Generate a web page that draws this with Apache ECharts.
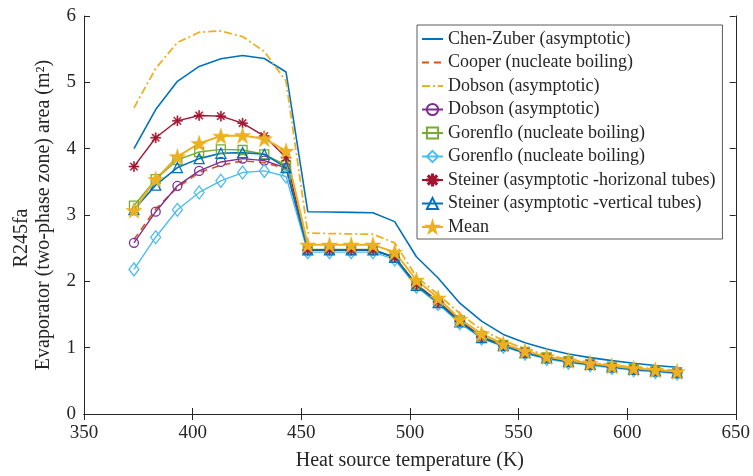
<!DOCTYPE html>
<html>
<head>
<meta charset="utf-8">
<script src="https://cdn.jsdelivr.net/npm/echarts@6/dist/echarts.min.js"></script>
<style>
html,body{margin:0;padding:0;background:#fff;}
#main{width:753px;height:476px;}
</style>
</head>
<body>
<div id="main"></div>
<script>
var temperatures = [373,383,393,403,413,423,433,443,453,463,473,483,493,503,513,523,533,543,553,563,573,583,593,603,613,623];
var chenZuber = [4.00,4.59,5.015,5.24,5.355,5.405,5.36,5.155,3.05,3.045,3.04,3.035,2.90,2.37,2.05,1.67,1.40,1.20,1.075,0.98,0.905,0.85,0.805,0.765,0.73,0.705];
var cooper = [2.63,3.09,3.415,3.64,3.75,3.815,3.79,3.70,2.47,2.47,2.47,2.47,2.36,1.95,1.69,1.40,1.16,1.035,0.93,0.85,0.79,0.75,0.71,0.675,0.65,0.625];
var dobsonLine = [4.615,5.21,5.60,5.755,5.775,5.69,5.465,5.02,2.73,2.72,2.715,2.71,2.58,2.07,1.80,1.515,1.265,1.11,0.98,0.89,0.825,0.78,0.74,0.705,0.68,0.655];
var dobsonCircle = [2.58,3.05,3.44,3.665,3.80,3.85,3.82,3.71,2.47,2.47,2.47,2.47,2.36,1.95,1.69,1.40,1.16,1.035,0.93,0.85,0.79,0.75,0.71,0.675,0.65,0.625];
var gorenfloSquare = [3.14,3.54,3.83,3.95,3.99,3.98,3.915,3.75,2.48,2.48,2.48,2.48,2.37,1.96,1.70,1.41,1.17,1.04,0.935,0.855,0.795,0.755,0.715,0.68,0.655,0.63];
var gorenfloDiamond = [2.18,2.665,3.08,3.34,3.515,3.64,3.665,3.58,2.44,2.44,2.44,2.44,2.33,1.92,1.66,1.37,1.14,1.015,0.91,0.83,0.775,0.735,0.695,0.66,0.635,0.61];
var steinerH = [3.73,4.165,4.42,4.50,4.49,4.385,4.19,3.865,2.47,2.47,2.47,2.47,2.36,1.95,1.69,1.40,1.16,1.035,0.93,0.85,0.79,0.75,0.71,0.675,0.65,0.625];
var steinerV = [3.08,3.45,3.715,3.85,3.93,3.94,3.915,3.715,2.475,2.475,2.475,2.475,2.36,1.94,1.68,1.39,1.15,1.03,0.925,0.845,0.79,0.75,0.71,0.675,0.65,0.625];
var meanVals = [3.07,3.54,3.88,4.08,4.19,4.20,4.15,3.965,2.55,2.55,2.55,2.55,2.44,2.02,1.75,1.43,1.21,1.055,0.95,0.865,0.805,0.765,0.725,0.69,0.665,0.64];
var seriesNames = ['Chen-Zuber (asymptotic)','Cooper (nucleate boiling)','Dobson (asymptotic)','Dobson (asymptotic) ','Gorenflo (nucleate boiling)','Gorenflo (nucleate boiling) ','Steiner (asymptotic -horizonal tubes)','Steiner (asymptotic -vertical tubes)','Mean'];
var xTicks = [350,400,450,500,550,600,650];
var yTicks = [0,1,2,3,4,5,6];

var FONT = 'Liberation Serif';
var AX = '#262626';
var STAR = 'path://M10 0 L12.245 6.91 L19.511 6.91 L13.633 11.18 L15.878 18.09 L10 13.82 L4.122 18.09 L6.367 11.18 L0.489 6.91 L7.755 6.91 Z';
var AST = 'path://M0 9 L20 9 L20 11 L0 11 Z M9 0 L11 0 L11 20 L9 20 Z M2.2 3.6 L3.6 2.2 L17.8 16.4 L16.4 17.8 Z M16.4 2.2 L17.8 3.6 L3.6 17.8 L2.2 16.4 Z';

function pairs(arr){ return temperatures.map(function(t,i){ return [t, arr[i]]; }); }

function mk(name, data, color, opts){
  opts = opts || {};
  return {
    name: name, type: 'line', data: pairs(data),
    xAxisIndex: 0, yAxisIndex: 0,
    symbol: opts.symbol || 'none',
    symbolSize: opts.size || 8,
    showSymbol: !!opts.symbol,
    lineStyle: {color: color, width: opts.width || 1.4, type: opts.type || 'solid'},
    itemStyle: {color: opts.fill || 'rgba(255,255,255,0)', borderColor: color, borderWidth: opts.bw === undefined ? 1.3 : opts.bw},
    emphasis: {disabled: true},
    animation: false,
    z: opts.z || 2
  };
}

var series = [
  mk(seriesNames[0], chenZuber, '#0072BD', {width:1.6}),
  mk(seriesNames[1], cooper, '#D95319', {type:[7,5], width:1.6}),
  mk(seriesNames[2], dobsonLine, '#EDB120', {type:[8,3,2,3], width:1.8}),
  mk(seriesNames[3], dobsonCircle, '#7E2F8E', {symbol:'circle', size:9}),
  mk(seriesNames[4], gorenfloSquare, '#77AC30', {symbol:'rect', size:9}),
  mk(seriesNames[5], gorenfloDiamond, '#4DBEEE', {symbol:'diamond', size:[10,13]}),
  mk(seriesNames[6], steinerH, '#A2142F', {symbol:AST, size:10, fill:'#A2142F', bw:0.6}),
  mk(seriesNames[7], steinerV, '#0072BD', {symbol:'triangle', size:10, width:1.6}),
  mk(seriesNames[8], meanVals, '#EDB120', {symbol:STAR, size:16, fill:'#EDB120', bw:0.5, width:2})
];

var legendData = seriesNames.map(function(n, i){
  if (i < 3) {
    return {name:n, itemStyle:{color:'rgba(0,0,0,0)', borderColor:'rgba(0,0,0,0)', borderWidth:0}};
  }
  return {name:n};
});

var axisCommon = {
  axisLine: {show:true, lineStyle:{color:AX, width:1}},
  axisTick: {show:true, inside:true, length:6, lineStyle:{color:AX, width:1}},
  splitLine: {show:false}
};

var option = {
  backgroundColor: '#fff',
  animation: false,
  grid: {left:84, right:16, top:16, bottom:60, containLabel:false},
  xAxis: [
    Object.assign({type:'value', min:350, max:650, interval:50, position:'bottom',
      name:'Heat source temperature (K)', nameLocation:'middle', nameGap:37,
      nameTextStyle:{fontFamily:FONT, fontSize:20, color:AX},
      axisLabel:{show:true, fontFamily:FONT, fontSize:19, color:AX, margin:10,
        formatter:function(v){ return xTicks.indexOf(v) >= 0 ? String(v) : ''; }}}, axisCommon),
    Object.assign({type:'value', min:350, max:650, interval:50, position:'top',
      axisLabel:{show:false}}, axisCommon)
  ],
  yAxis: [
    Object.assign({type:'value', min:0, max:6, interval:1, position:'left',
      name:'Evaporator (two-phase zone) area (m\u00B2)', nameLocation:'middle', nameGap:30,
      nameTextStyle:{fontFamily:FONT, fontSize:20, color:AX},
      axisLabel:{show:true, fontFamily:FONT, fontSize:19, color:AX, margin:8,
        formatter:function(v){ return yTicks.indexOf(v) >= 0 ? String(v) : ''; }}}, axisCommon),
    Object.assign({type:'value', min:0, max:6, interval:1, position:'right',
      axisLabel:{show:false}}, axisCommon)
  ],
  legend: {
    orient:'vertical', left:417, top:25,
    itemWidth:21, itemHeight:14, itemGap:5.5,
    padding:[5,7,3,4],
    backgroundColor:'#fff', borderColor:'#5a5a5a', borderWidth:1,
    textStyle:{fontFamily:FONT, fontSize:18, color:AX},
    data: legendData
  },
  graphic: [{
    type:'text', left:12, top:'middle',
    rotation: Math.PI/2,
    style:{text:'R245fa', font:'20px "Liberation Serif"', fill:AX}
  }],
  series: series
};

var chart = echarts.init(document.getElementById('main'), null, {renderer:'canvas'});
chart.setOption(option);
</script>
</body>
</html>
